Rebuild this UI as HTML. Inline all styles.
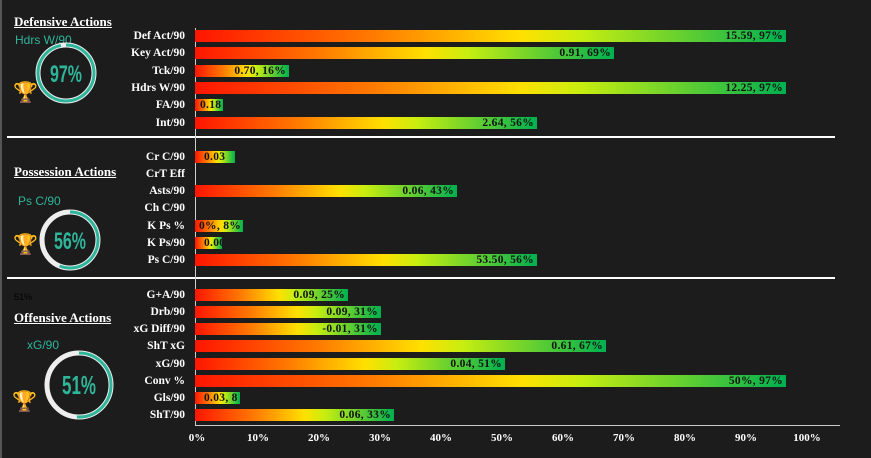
<!DOCTYPE html><html><head><style>
body{margin:0;background:#1c1c1c;}
#c{position:relative;width:871px;height:458px;background:#1c1c1c;overflow:hidden;font-family:"Liberation Serif",serif;border-left:2px solid #555;box-sizing:border-box}
.t{position:absolute;color:#fff;font-weight:bold;font-size:13px;text-decoration:underline;}
.l{position:absolute;right:686px;color:#fff;font-weight:bold;font-size:11.5px;white-space:nowrap;line-height:12px}
.b{position:absolute;left:193px;height:12px;background:linear-gradient(90deg,#ff1500,#ff7a00 30%,#ffe000 55%,#c8ee10 65%,#00b050);overflow:hidden}
.b span{position:absolute;right:3px;top:0;font-size:11.5px;line-height:12px;font-weight:bold;color:#111;white-space:nowrap;letter-spacing:.3px}
.h{position:absolute;height:2px;background:#fff}
.x{position:absolute;top:432px;color:#fff;font-weight:bold;font-size:11px;width:40px;text-align:center;margin-left:-20px}
.s{position:absolute;color:#2fb59a;font-family:"Liberation Sans",sans-serif;font-size:12px}
.tr{position:absolute;font-size:20px;color:#e8b80a}
</style></head><body><div id="c">
<div class="t" style="left:12px;top:14px">Defensive Actions</div>
<div class="t" style="left:12px;top:164px">Possession Actions</div>
<div class="t" style="left:12px;top:310px">Offensive Actions</div>
<div class="s" style="left:13px;top:33px">Hdrs W/90</div>
<div class="s" style="left:16px;top:194px">Ps C/90</div>
<div class="s" style="left:25px;top:338px">xG/90</div>
<div style="position:absolute;left:12px;top:292px;font-size:9px;color:#000;font-family:'Liberation Sans'">51%</div>
<svg style="position:absolute;left:0;top:0" width="190" height="458">
<g font-family="Liberation Sans Narrow, Liberation Sans, sans-serif" font-weight="bold" fill="#2fb59a" text-anchor="middle">
<circle cx="64" cy="73" r="28" fill="none" stroke="#eee" stroke-width="5"/>
<circle cx="64" cy="73" r="28" fill="none" stroke="#2fb59a" stroke-width="3" stroke-dasharray="170.6 200" transform="rotate(-90 64 73)"/>
<text x="64" y="82" font-size="24" textLength="32" lengthAdjust="spacingAndGlyphs">97%</text>
<circle cx="68" cy="240" r="28" fill="none" stroke="#eee" stroke-width="5"/>
<circle cx="68" cy="240" r="28" fill="none" stroke="#2fb59a" stroke-width="3" stroke-dasharray="98.5 200" transform="rotate(-90 68 240)"/>
<text x="68" y="249" font-size="24" textLength="32" lengthAdjust="spacingAndGlyphs">56%</text>
<circle cx="77" cy="385" r="32" fill="none" stroke="#eee" stroke-width="5"/>
<circle cx="77" cy="385" r="32" fill="none" stroke="#2fb59a" stroke-width="3" stroke-dasharray="102.5 250" transform="rotate(-90 77 385)"/>
<text x="77" y="394" font-size="26" textLength="34" lengthAdjust="spacingAndGlyphs">51%</text>
</g></svg>
<div class="tr" style="left:11px;top:80px">🏆</div>
<div class="tr" style="left:11px;top:232px">🏆</div>
<div class="tr" style="left:10px;top:389px">🏆</div>
<div class="h" style="left:5px;top:136px;width:828px"></div>
<div class="h" style="left:5px;top:277px;width:828px"></div>
<div style="position:absolute;left:193px;top:28px;width:1px;height:398px;background:#ccc"></div>
<div style="position:absolute;left:193px;top:425px;width:645px;height:1px;background:#ccc"></div>

<div class="l" style="top:30px">Def Act/90</div><div class="b" style="top:30px;width:591px"><span>15.59, 97%</span></div>
<div class="l" style="top:47px">Key Act/90</div><div class="b" style="top:47px;width:419px"><span>0.91, 69%</span></div>
<div class="l" style="top:65px">Tck/90</div><div class="b" style="top:65px;width:94px"><span>0.70, 16%</span></div>
<div class="l" style="top:82px">Hdrs W/90</div><div class="b" style="top:82px;width:591px"><span>12.25, 97%</span></div>
<div class="l" style="top:99px">FA/90</div><div class="b" style="top:99px;width:28px"><span style="left:5px;right:auto">0.18</span></div>
<div class="l" style="top:117px">Int/90</div><div class="b" style="top:117px;width:342px"><span>2.64, 56%</span></div>

<div class="l" style="top:151px">Cr C/90</div><div class="b" style="top:151px;width:40px"><span style="left:9px;right:auto">0.03</span></div>
<div class="l" style="top:168px">CrT Eff</div>
<div class="l" style="top:185px">Asts/90</div><div class="b" style="top:185px;width:262px"><span>0.06, 43%</span></div>
<div class="l" style="top:202px">Ch C/90</div>
<div class="l" style="top:220px">K Ps %</div><div class="b" style="top:220px;width:48px"><span style="left:4px;right:auto">0%, 8%</span></div>
<div class="l" style="top:237px">K Ps/90</div><div class="b" style="top:237px;width:27px"><span style="left:9px;right:auto">0.00</span></div>
<div class="l" style="top:254px">Ps C/90</div><div class="b" style="top:254px;width:342px"><span>53.50, 56%</span></div>

<div class="l" style="top:289px">G+A/90</div><div class="b" style="top:289px;width:153px"><span>0.09, 25%</span></div>
<div class="l" style="top:306px">Drb/90</div><div class="b" style="top:306px;width:186px"><span>0.09, 31%</span></div>
<div class="l" style="top:323px">xG Diff/90</div><div class="b" style="top:323px;width:186px"><span>-0.01, 31%</span></div>
<div class="l" style="top:340px">ShT xG</div><div class="b" style="top:340px;width:411px"><span>0.61, 67%</span></div>
<div class="l" style="top:358px">xG/90</div><div class="b" style="top:358px;width:310px"><span>0.04, 51%</span></div>
<div class="l" style="top:375px">Conv %</div><div class="b" style="top:375px;width:591px"><span>50%, 97%</span></div>
<div class="l" style="top:392px">Gls/90</div><div class="b" style="top:392px;width:45px"><span style="left:9px;right:auto">0.03, 8</span></div>
<div class="l" style="top:409px">ShT/90</div><div class="b" style="top:409px;width:199px"><span>0.06, 33%</span></div>

<div class="x" style="left:195px">0%</div><div class="x" style="left:256px">10%</div><div class="x" style="left:317px">20%</div><div class="x" style="left:378px">30%</div><div class="x" style="left:439px">40%</div><div class="x" style="left:500px">50%</div><div class="x" style="left:561px">60%</div><div class="x" style="left:622px">70%</div><div class="x" style="left:683px">80%</div><div class="x" style="left:744px">90%</div><div class="x" style="left:805px">100%</div>
</div></body></html>
